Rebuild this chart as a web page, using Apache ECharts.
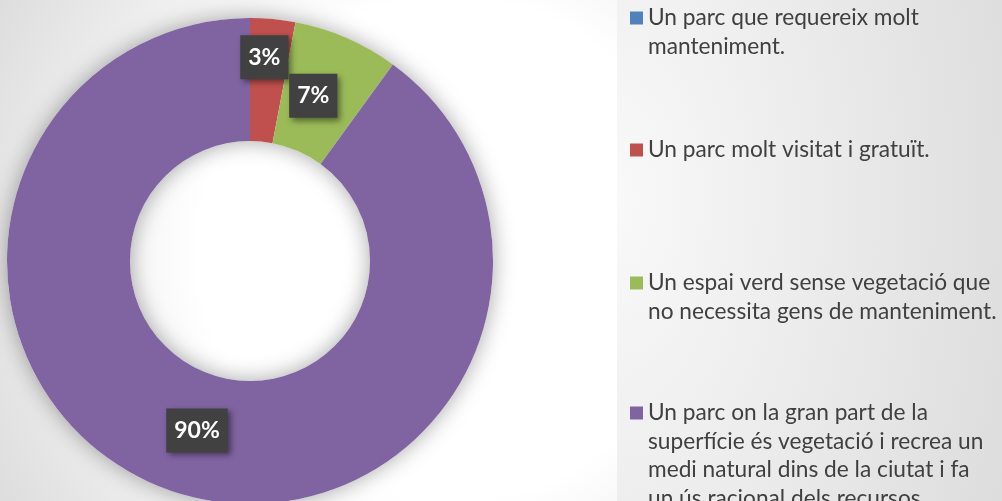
<!DOCTYPE html>
<html>
<head>
<meta charset="utf-8">
<script src="https://cdn.jsdelivr.net/npm/echarts@6/dist/echarts.min.js"></script>
<style>
  html, body { margin: 0; padding: 0; }
  #chart {
    width: 1002px; height: 501px;
    background:
      radial-gradient(ellipse 430px 800px at 0px 200px, #f9f9f9 0%, #dcdcdc 100%) 617px 0 / 385px 501px no-repeat,
      radial-gradient(circle at 450px 250px, #ffffff 250px, #dadada 540px);
  }
</style>
</head>
<body>
<div id="chart"></div>
<script>
var categories = [
  'Un parc que requereix molt\nmanteniment.',
  'Un parc molt visitat i gratuït.',
  'Un espai verd sense vegetació que\nno necessita gens de manteniment.',
  'Un parc on la gran part de la\nsuperfície és vegetació i recrea un\nmedi natural dins de la ciutat i fa\nun ús racional dels recursos.'
]
var values = [0, 3, 7, 90]
var colors = ['#4f81bd', '#c0504d', '#9bbb59', '#8064a2']

var labelOffsets = [[0, 0], [-3, -20], [-10, 4], [4, -6]]
var legendCenters = [18, 150, 283, 413]
var lineH = 28.5
var box = 13

var total = values.reduce(function (a, b) { return a + b }, 0)

// square icon kept at the first text line: the icon box is as tall as the
// text minus one line, the square sits at its top
var legends = categories.map(function (name, i) {
  var n = name.split('\n').length
  var h = box + (n - 1) * lineH
  var icon = 'path://M0,0h' + box + 'v' + box + 'h-' + box + 'z' +
    (n > 1 ? 'M0,' + h + 'h' + box + 'v-0.01h-' + box + 'z' : '')
  return {
    orient: 'vertical',
    left: 630,
    top: legendCenters[i] - lineH / 2,
    padding: 0,
    icon: icon,
    itemWidth: box,
    itemHeight: h,
    selectedMode: false,
    data: [name],
    textStyle: {
      color: '#404040',
      fontFamily: 'Lato',
      fontSize: 22.7,
      lineHeight: lineH
    }
  }
})

var myChart = echarts.init(document.getElementById('chart'))
myChart.setOption({
  color: colors,
  legend: legends,
  series: [
    {
      type: 'pie',
      z: 1,
      silent: true,
      center: [250, 261],
      radius: [120, 243],
      label: { show: false },
      itemStyle: {
        color: '#ffffff',
        shadowBlur: 22,
        shadowColor: 'rgba(0, 0, 0, 0.35)'
      },
      data: [{ value: total, name: '' }]
    },
    {
      type: 'pie',
      z: 2,
      center: [250, 261],
      radius: [120, 243],
      startAngle: 90,
      clockwise: true,
      avoidLabelOverlap: false,
      labelLine: { show: false },
      label: {
        show: true,
        position: 'inside',
        formatter: '{d}%',
        color: '#ffffff',
        fontFamily: 'Lato',
        fontWeight: 'bold',
        fontSize: 23,
        lineHeight: 24,
        backgroundColor: '#414141',
        padding: [11, 8, 9, 8],
        shadowColor: 'rgba(0, 0, 0, 0.45)',
        shadowBlur: 6,
        shadowOffsetX: 3,
        shadowOffsetY: 3
      },
      itemStyle: { borderWidth: 0 },
      data: categories.map(function (name, i) {
        return {
          name: name,
          value: values[i],
          label: values[i] === 0 ? { show: false } : { offset: labelOffsets[i] }
        }
      })
    }
  ]
})
</script>
</body>
</html>
